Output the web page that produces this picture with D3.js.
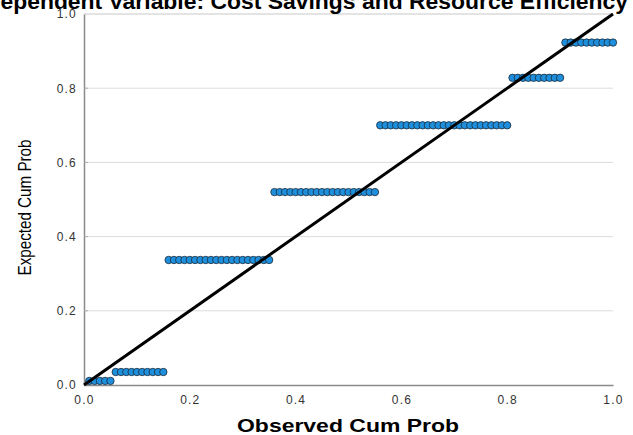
<!DOCTYPE html>
<html>
<head>
<meta charset="utf-8">
<script src="https://cdn.jsdelivr.net/npm/d3@7"></script>
<style>
  body { margin: 0; background: #fff; }
  svg { display: block; }
</style>
</head>
<body>
<svg id="chart" width="633" height="435"></svg>
<script>
// residual groups of the P-P plot: how many cases share each expected cum prob
const groupCounts = [5, 10, 20, 20, 25, 10, 10];
const expectedLevels = [0.011, 0.035, 0.337, 0.52, 0.70, 0.828, 0.923];
const tickValues = [0, 0.2, 0.4, 0.6, 0.8, 1.0];
const titleText = 'Dependent Variable: Cost Savings and Resource Efficiency';

const total = d3.sum(groupCounts);
const points = [];
let rank = 0;
groupCounts.forEach((n, g) => {
  for (let i = 0; i < n; i++) {
    rank++;
    points.push({ observed: rank / total, expected: expectedLevels[g] });
  }
});

const margin = { left: 84, right: 20, top: 14, bottom: 50 };
const width = 633, height = 435;
const svg = d3.select('#chart');
const font = 'Liberation Sans, Arial, sans-serif';

const x = d3.scaleLinear().domain([0, 1]).range([margin.left, width - margin.right]);
const y = d3.scaleLinear().domain([0, 1]).range([height - margin.bottom, margin.top]);

// grid
svg.append('g').selectAll('line.grid')
  .data(tickValues.slice(1))
  .enter().append('line')
    .attr('class', 'grid')
    .attr('x1', x(0)).attr('x2', x(1))
    .attr('y1', d => y(d)).attr('y2', d => y(d))
    .attr('stroke', d => d === 1 ? '#c8c8c8' : '#dcdcdc')
    .attr('stroke-width', 1);

// axes
const xAxis = svg.append('g')
  .attr('transform', `translate(0,${y(0)})`)
  .call(d3.axisBottom(x).tickValues(tickValues).tickFormat(d3.format('.1f')).tickSize(0).tickPadding(10));
const yAxis = svg.append('g')
  .attr('transform', `translate(${x(0)},0)`)
  .call(d3.axisLeft(y).tickValues(tickValues).tickFormat(d3.format('.1f')).tickSize(0).tickPadding(7));

[xAxis, yAxis].forEach(a => {
  a.select('.domain').attr('stroke', '#8a8a8a').attr('stroke-width', 1.5);
  a.selectAll('text')
    .attr('fill', '#333')
    .style('font-family', font)
    .style('font-size', '12px')
    .style('letter-spacing', '1.2px');
});
// little inside ticks on y
svg.append('g').selectAll('line.ytick')
  .data(tickValues.slice(1, -1))
  .enter().append('line')
    .attr('x1', x(0)).attr('x2', x(0) + 4)
    .attr('y1', d => y(d)).attr('y2', d => y(d))
    .attr('stroke', '#aaa');

// points
svg.append('g').selectAll('circle')
  .data(points)
  .enter().append('circle')
    .attr('cx', d => x(d.observed))
    .attr('cy', d => y(d.expected))
    .attr('r', 3.7)
    .attr('fill', '#1e8fdc')
    .attr('stroke', '#1b2a38')
    .attr('stroke-width', 0.8);

// reference line
svg.append('line')
  .attr('x1', x(0)).attr('y1', y(0))
  .attr('x2', x(1)).attr('y2', y(1))
  .attr('stroke', '#000')
  .attr('stroke-width', 3);

// titles
const title = svg.append('text')
  .attr('x', 628).attr('y', 9)
  .attr('text-anchor', 'end')
  .style('font-family', font)
  .style('font-weight', 'bold')
  .style('font-size', '17px')
  .text(titleText);
// size so that the "e" after the cut-off "D" lands at the left edge
const probe = svg.append('text')
  .style('font-family', font)
  .style('font-weight', 'bold')
  .style('font-size', '100px')
  .text(titleText.slice(1));
const fs = 628 / probe.node().getComputedTextLength() * 100;
probe.remove();
title.style('font-size', fs + 'px');

svg.append('text')
  .attr('x', 348).attr('y', 432)
  .attr('text-anchor', 'middle')
  .attr('textLength', 222)
  .attr('lengthAdjust', 'spacingAndGlyphs')
  .style('font-family', font)
  .style('font-weight', 'bold')
  .style('font-size', '18px')
  .text('Observed Cum Prob');

svg.append('text')
  .attr('transform', `translate(31,${y(0.5) + 8}) rotate(-90)`)
  .attr('text-anchor', 'middle')
  .attr('textLength', 136)
  .attr('lengthAdjust', 'spacingAndGlyphs')
  .attr('fill', '#000')
  .style('font-family', 'Liberation Sans Narrow, Liberation Sans, Arial, sans-serif')
  .style('font-size', '18px')
  .text('Expected Cum Prob');
</script>
</body>
</html>
